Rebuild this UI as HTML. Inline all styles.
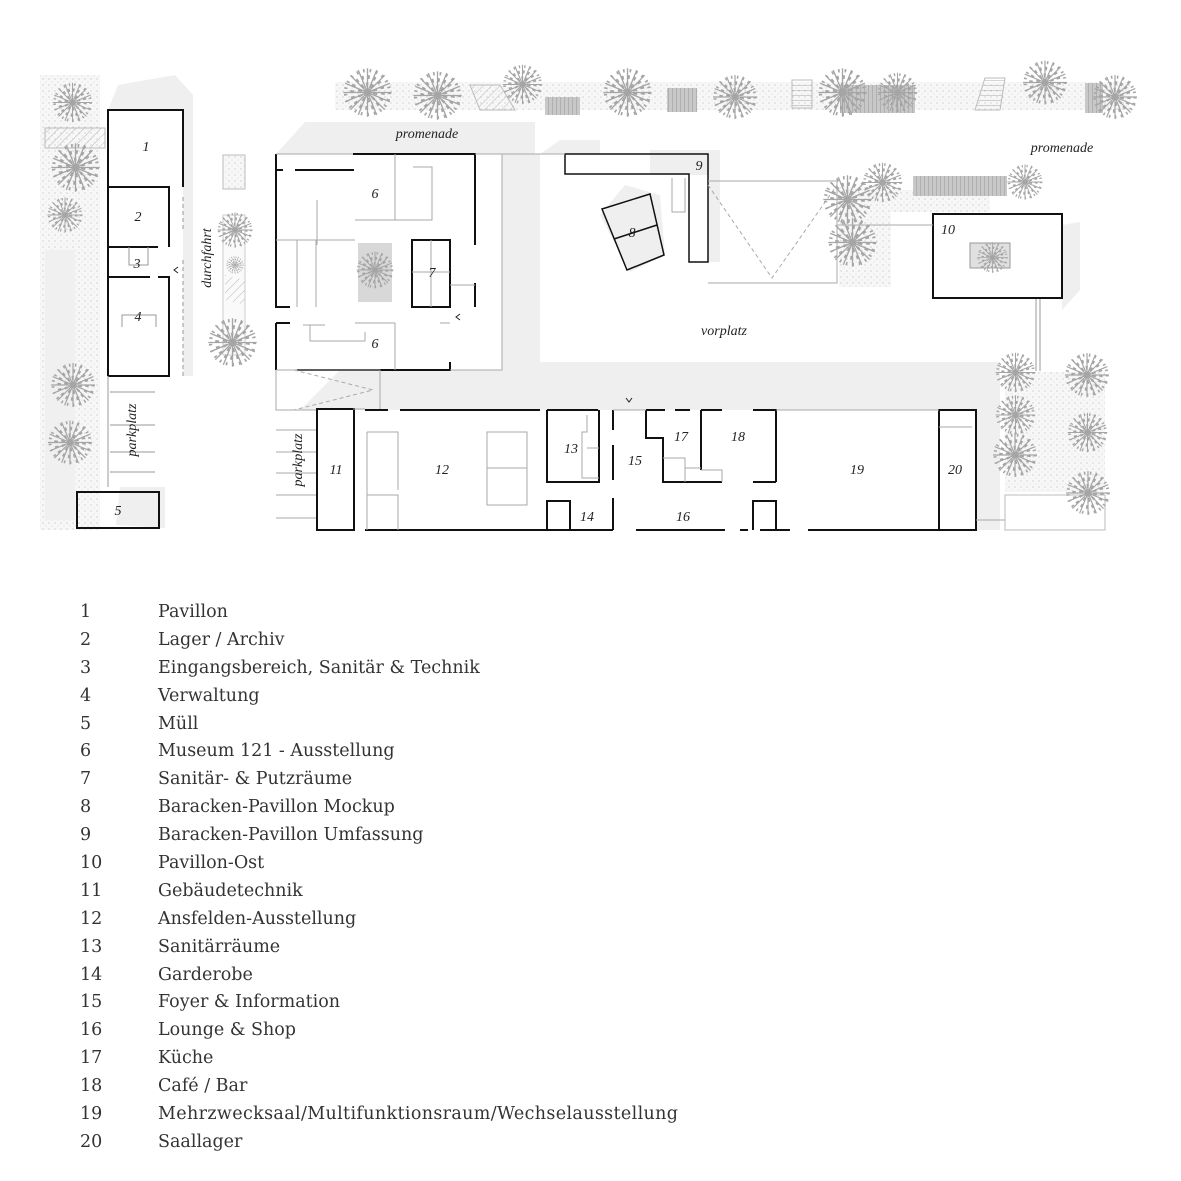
<!DOCTYPE html>
<html><head><meta charset="utf-8"><style>
html,body{margin:0;padding:0;background:#fff;}
svg{display:block;}
.lbl{font-family:"Liberation Serif",serif;font-style:italic;font-size:14px;fill:#222;}
.lg{font-family:"DejaVu Serif","Liberation Serif",serif;font-size:17.5px;fill:#333;}
</style></head><body>
<svg width="1181" height="1181" viewBox="0 0 1181 1181" xmlns="http://www.w3.org/2000/svg">
<defs>
<symbol id="tree" viewBox="-25 -25 50 50">
<g stroke="#a5a5a5" fill="none">
<path stroke-width="1.2" d="M0 0L22 0M0 0L20.3 8.4M0 0L15.6 15.6M0 0L8.4 20.3M0 0L0 22M0 0L-8.4 20.3M0 0L-15.6 15.6M0 0L-20.3 8.4M0 0L-22 0M0 0L-20.3 -8.4M0 0L-15.6 -15.6M0 0L-8.4 -20.3M0 0L0 -22M0 0L8.4 -20.3M0 0L15.6 -15.6M0 0L20.3 -8.4"/>
<circle r="7" stroke-width="4" stroke-dasharray="2 2.5"/>
<circle r="14" stroke-width="3.5" stroke-dasharray="2 3.5"/>
<circle r="20" stroke-width="3" stroke-dasharray="1.5 4.5"/>
</g>
</symbol>
<pattern id="stip" width="6" height="6" patternUnits="userSpaceOnUse"><rect width="6" height="6" fill="#f7f7f7"/><circle cx="1" cy="1" r="0.6" fill="#bbb"/><circle cx="4" cy="4" r="0.5" fill="#ccc"/></pattern>
<pattern id="hatch" width="6" height="6" patternUnits="userSpaceOnUse" patternTransform="rotate(45)"><line x1="0" y1="0" x2="0" y2="6" stroke="#bbb" stroke-width="1"/></pattern>
<pattern id="vst" width="4" height="4" patternUnits="userSpaceOnUse"><rect width="4" height="4" fill="#c8c8c8"/><line x1="0" y1="0" x2="0" y2="4" stroke="#999" stroke-width="1"/></pattern>
<pattern id="hst" width="5" height="5" patternUnits="userSpaceOnUse"><line x1="0" y1="0" x2="5" y2="0" stroke="#aaa" stroke-width="1"/></pattern>
</defs>

<g fill="#efefef">
<polygon points="108,110 118,85 175,75 193,95 193,376 183,376 183,110"/>
<polygon points="276,154 305,122 535,122 535,154"/>
<polygon points="502,154 540,154 540,362 1000,362 1000,410 380,410 380,370 502,370"/>
<polygon points="340,370 380,370 380,410 300,410"/>
<polygon points="116,525 120,487 165,487 165,528"/>
<polygon points="1062,225 1080,222 1080,290 1062,310"/>
<polygon points="650,150 720,150 720,262 708,262 708,175 650,175"/>
<polygon points="600,215 625,185 660,195 665,255 630,272"/>
<polygon points="540,154 560,140 600,140 600,154"/>
<polygon points="975,410 1000,395 1000,530 975,530"/>
</g>

<rect x="40" y="75" width="60" height="455" fill="url(#stip)"/>
<rect x="45" y="250" width="30" height="270" fill="#f0f0f0"/>
<rect x="335" y="82" width="795" height="28" fill="url(#stip)"/>
<rect x="839" y="187" width="52" height="100" fill="url(#stip)"/>
<rect x="890" y="190" width="100" height="22" fill="url(#stip)"/>
<rect x="1005" y="372" width="100" height="120" fill="url(#stip)"/>
<rect x="1005" y="495" width="100" height="35" fill="none" stroke="#bbb"/>
<rect x="223" y="155" width="22" height="34" fill="url(#stip)" stroke="#bbb"/>
<rect x="223" y="215" width="22" height="140" fill="#fafafa" stroke="#ccc"/>
<polygon points="225,275 245,280 245,305 225,300" fill="url(#hatch)"/>

<polygon points="470,85 500,85 515,110 480,110" fill="url(#hatch)" stroke="#bbb"/>
<rect x="45" y="128" width="60" height="20" fill="url(#hatch)" stroke="#bbb"/>
<rect x="545" y="97" width="35" height="18" fill="url(#vst)"/>
<rect x="667" y="88" width="30" height="24" fill="url(#vst)"/>
<rect x="792" y="80" width="20" height="28" fill="url(#hst)" stroke="#bbb"/>
<rect x="840" y="85" width="75" height="28" fill="url(#vst)"/>
<polygon points="985,78 1005,78 1000,110 975,110" fill="url(#hst)" stroke="#bbb"/>
<rect x="1085" y="83" width="18" height="30" fill="url(#vst)"/>
<rect x="913" y="176" width="94" height="20" fill="url(#vst)"/>
<rect x="358" y="243" width="34" height="59" fill="#d8d8d8"/>
<rect x="970" y="243" width="40" height="25" fill="#e0e0e0" stroke="#999"/>
<line x1="1036" y1="298" x2="1036" y2="371" stroke="#999"/><line x1="1040" y1="298" x2="1040" y2="371" stroke="#999"/>

<g>
<use href="#tree" x="340" y="65" width="55" height="55"/>
<use href="#tree" x="410" y="68" width="55" height="55"/>
<use href="#tree" x="500" y="62" width="45" height="45"/>
<use href="#tree" x="600" y="65" width="55" height="55"/>
<use href="#tree" x="710" y="72" width="50" height="50"/>
<use href="#tree" x="815" y="65" width="55" height="55"/>
<use href="#tree" x="875" y="70" width="45" height="45"/>
<use href="#tree" x="1020" y="55" width="50" height="55"/>
<use href="#tree" x="1090" y="72" width="50" height="50"/>
<use href="#tree" x="50" y="80" width="45" height="45"/>
<use href="#tree" x="48" y="140" width="55" height="55"/>
<use href="#tree" x="45" y="195" width="40" height="40"/>
<use href="#tree" x="48" y="360" width="50" height="50"/>
<use href="#tree" x="45" y="415" width="50" height="55"/>
<use href="#tree" x="215" y="210" width="40" height="40"/>
<use href="#tree" x="225" y="255" width="20" height="20"/>
<use href="#tree" x="205" y="315" width="55" height="55"/>
<use href="#tree" x="354" y="240" width="42" height="60"/>
<use href="#tree" x="820" y="172" width="55" height="55"/>
<use href="#tree" x="825" y="215" width="55" height="55"/>
<use href="#tree" x="860" y="160" width="45" height="45"/>
<use href="#tree" x="1005" y="162" width="40" height="40"/>
<use href="#tree" x="965" y="240" width="55" height="35"/>
<use href="#tree" x="993" y="350" width="45" height="45"/>
<use href="#tree" x="993" y="390" width="45" height="50"/>
<use href="#tree" x="990" y="430" width="50" height="50"/>
<use href="#tree" x="1062" y="350" width="50" height="50"/>
<use href="#tree" x="1065" y="410" width="45" height="45"/>
<use href="#tree" x="1063" y="468" width="50" height="50"/>
</g>

<g fill="none" stroke="#111" stroke-width="2">
<path d="M108 376V110H169M169 110H183V187"/>
<path d="M108 187H169V247" />
<path d="M108 247H158M108 277H150M158 277H169V376H108"/>
<path d="M183 197V230M183 260V376" stroke="#999" stroke-dasharray="4 3" stroke-width="1"/>
<rect x="77" y="492" width="82" height="36"/>
</g>
<g fill="none" stroke="#999" stroke-width="1">
<path d="M129 247V265H148V247"/>
<path d="M122 327V315H156V327"/>
<path d="M110 392H155M110 425H155M110 452H155M110 472H155M108 376V487"/>
</g>

<g fill="none" stroke="#111" stroke-width="2">
<path d="M276 154V307H290"/>
<path d="M276 170H283M295 170H354"/>
<path d="M353 154H475V245"/>
<path d="M475 283V307"/>
<rect x="412" y="240" width="38" height="67"/>
<path d="M276 323H290M276 323V370M297 370H450V362"/>
</g>
<g fill="none" stroke="#aaa" stroke-width="1">
<path d="M276 154H353M475 154H502V370H450M276 370H380V410M276 370V410H316"/>
<path d="M294 370L373 390L294 410" stroke-dasharray="4 3"/>
<path d="M395 154V220M395 220H355M317 200V210M317 210V245M276 240H355M316 240V307M297 240V307"/>
<path d="M413 167H432V220H395"/>
<path d="M450 285H475M431 240V307M412 272H450"/>
<path d="M303 325H325M310 325V341H365V332M395 323V370M355 323H395M440 323H450"/>
</g>

<g fill="none" stroke="#111" stroke-width="1.5">
<path d="M565 154H708V262H689V174H565Z"/>
<polygon points="602,209 650,194 664,255 627,270"/>
<line x1="614" y1="239" x2="657" y2="225"/>
<rect x="933" y="214" width="129" height="84" stroke-width="2"/>
</g>
<g fill="none" stroke="#aaa" stroke-width="1">
<path d="M475 154H565M708 181H837V283H708"/>
<path d="M708 185L772 278L837 185" stroke-dasharray="4 3"/>
<path d="M672 178V212H685V178"/>
<path d="M837 225H933"/>
</g>

<g fill="none" stroke="#111" stroke-width="2">
<rect x="317" y="409" width="37" height="121"/>
<path d="M365 410H388M402 410H540M547 410H598M613 410V430M646 410H665M675 410H690M701 410H722M753 410H776V482M753 482H776"/>
<path d="M400 410H540" stroke-dasharray="10 4"/>
<path d="M547 410V482H599V410"/>
<path d="M646 410V438H663V482H722"/>
<path d="M701 410V470"/>
<path d="M613 445V480M613 498V530"/>
<path d="M547 530V501H570V530"/>
<path d="M753 530V501H776V530"/>
<path d="M365 530H613M636 530H725M740 530H748M760 530H790M808 530H939"/>
<path d="M939 410H976V530H939ZM939 427V410"/>
</g>
<g fill="none" stroke="#aaa" stroke-width="1">
<path d="M353 409H365M613 410H646M776 410H939"/>
<path d="M367 432V530M367 432H398V490M367 495H398V530M487 432H527V505H487ZM487 468H527"/>
<path d="M587 415V432H582V478H599M587 448H599"/>
<path d="M663 458H685V482M685 468H701M701 470H722V482"/>
<path d="M939 427H972"/>
<path d="M276 430H316M276 452H316M276 473H316M276 495H316M276 518H316"/>
<path d="M976 520H1005"/>
</g>

<g fill="none" stroke="#222" stroke-width="1">
<path d="M178 267L174 270L178 273"/>
<path d="M460 314L456 317L460 320"/>
<path d="M626 398L629 402L632 398"/>
</g>

<g class="lbl" text-anchor="middle">
<text x="146" y="151">1</text><text x="138" y="221">2</text><text x="137" y="268">3</text><text x="138" y="321">4</text>
<text x="118" y="515">5</text>
<text x="375" y="198">6</text><text x="375" y="348">6</text><text x="432" y="277">7</text>
<text x="632" y="237">8</text><text x="699" y="170">9</text>
<text x="948" y="234">10</text>
<text x="336" y="474">11</text><text x="442" y="474">12</text><text x="571" y="453">13</text><text x="587" y="521">14</text>
<text x="635" y="465">15</text><text x="683" y="521">16</text><text x="681" y="441">17</text><text x="738" y="441">18</text>
<text x="857" y="474">19</text><text x="955" y="474">20</text>
<text x="427" y="138">promenade</text><text x="1062" y="152">promenade</text>
<text x="724" y="335">vorplatz</text>
<text transform="translate(136,430) rotate(-90)">parkplatz</text>
<text transform="translate(302,460) rotate(-90)">parkplatz</text>
<text transform="translate(211,258) rotate(-90)">durchfahrt</text>
</g>

<g class="lg">
<text x="80" y="617">1</text><text x="158" y="617">Pavillon</text>
<text x="80" y="645">2</text><text x="158" y="645">Lager / Archiv</text>
<text x="80" y="673">3</text><text x="158" y="673">Eingangsbereich, Sanitär &amp; Technik</text>
<text x="80" y="701">4</text><text x="158" y="701">Verwaltung</text>
<text x="80" y="729">5</text><text x="158" y="729">Müll</text>
<text x="80" y="756">6</text><text x="158" y="756">Museum 121 - Ausstellung</text>
<text x="80" y="784">7</text><text x="158" y="784">Sanitär- &amp; Putzräume</text>
<text x="80" y="812">8</text><text x="158" y="812">Baracken-Pavillon Mockup</text>
<text x="80" y="840">9</text><text x="158" y="840">Baracken-Pavillon Umfassung</text>
<text x="80" y="868">10</text><text x="158" y="868">Pavillon-Ost</text>
<text x="80" y="896">11</text><text x="158" y="896">Gebäudetechnik</text>
<text x="80" y="924">12</text><text x="158" y="924">Ansfelden-Ausstellung</text>
<text x="80" y="952">13</text><text x="158" y="952">Sanitärräume</text>
<text x="80" y="980">14</text><text x="158" y="980">Garderobe</text>
<text x="80" y="1007">15</text><text x="158" y="1007">Foyer &amp; Information</text>
<text x="80" y="1035">16</text><text x="158" y="1035">Lounge &amp; Shop</text>
<text x="80" y="1063">17</text><text x="158" y="1063">Küche</text>
<text x="80" y="1091">18</text><text x="158" y="1091">Café / Bar</text>
<text x="80" y="1119">19</text><text x="158" y="1119" textLength="520">Mehrzwecksaal/Multifunktionsraum/Wechselausstellung</text>
<text x="80" y="1147">20</text><text x="158" y="1147">Saallager</text>
</g>
</svg>
</body></html>
